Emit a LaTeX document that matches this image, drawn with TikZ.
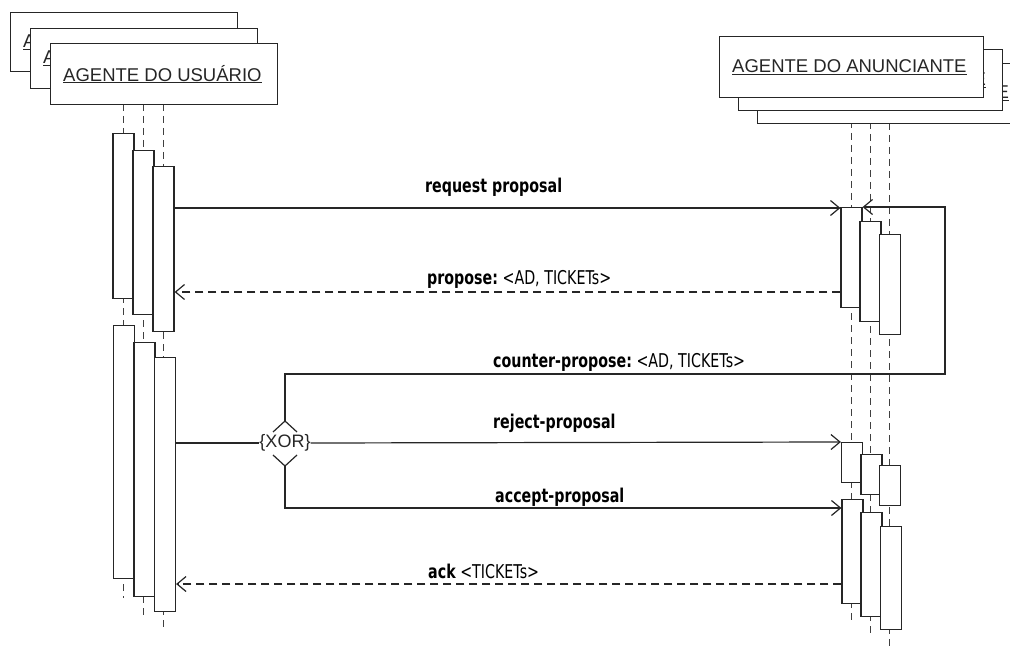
\documentclass[tikz,border=0pt]{standalone}
\usepackage{fontspec}
\setmainfont{Liberation Sans}
\newfontfamily\labfont[FakeStretch=0.75]{DejaVu Sans}
\usetikzlibrary{arrows.meta}
\begin{document}
\begin{tikzpicture}[x=1pt,y=-1pt,
  ln/.style={draw=black!85, line width=1.2pt},
  agent/.style={ln, fill=white, rectangle, inner sep=0pt, anchor=north west},
  agtxt/.style={anchor=west, inner sep=0pt, font=\fontsize{18.5}{20}\selectfont, text=black!85},
  life/.style={draw=black!75, line width=1.1pt, dash pattern=on 7pt off 5pt},
  act/.style={ln, fill=white, rectangle, inner sep=0pt, minimum width=21pt, anchor=north},
  msg/.style={ln, -{Straight Barb[length=9pt,width=15pt,line width=1.2pt]}},
  dmsg/.style={msg, dash pattern=on 8pt off 5pt},
  lab/.style={anchor=base west, inner sep=0pt, font=\labfont\fontsize{19}{20}\selectfont, text=black}
]
\useasboundingbox (0,0) rectangle (1010,650);
\clip (0,0) rectangle (1010,650);

% ---------- lifelines ----------
\coordinate (LE1) at (123.5,598);
\coordinate (LE2) at (143.5,615);
\coordinate (LE3) at (163.5,630);
\coordinate (RE1) at (851.5,620);
\coordinate (RE2) at (870.5,636);
\coordinate (RE3) at (889.5,650);
\draw[life] (123.5,104) -- (LE1);
\draw[life] (143.5,104) -- (LE2);
\draw[life] (163.5,104) -- (LE3);
\draw[life] (851.5,97) -- (RE1);
\draw[life] (870.5,110) -- (RE2);
\draw[life] (889.5,123) -- (RE3);

% ---------- agent boxes (left) ----------
\node[agent, minimum width=227pt, minimum height=59pt] (U1) at (10,12) {};
\node[agtxt] at ([xshift=13pt]U1.west) {\underline{A}};
\node[agent, minimum width=227pt, minimum height=60pt] (U2) at (30,28) {};
\node[agtxt] at ([xshift=13pt]U2.west) {\underline{A}};
\node[agent, minimum width=227pt, minimum height=61pt] (U3) at (50,43) {};
\node[agtxt] (UT) at ([xshift=13pt]U3.west) {\underline{AGENTE DO USUÁRIO}};

% ---------- agent boxes (right) ----------
\node[agent, minimum width=264pt, minimum height=60pt] (N3) at (757,63) {};
\node[agtxt, anchor=east] at ([xshift=-13pt]N3.east) {\underline{E}};
\node[agent, minimum width=264pt, minimum height=61pt] (N2) at (738,49) {};
\node[agtxt, anchor=east] at ([xshift=-17pt]N2.east) {\underline{E}};
\node[agent, minimum width=264pt, minimum height=61pt] (N1) at (719,36) {};
\node[agtxt] (NT) at ([xshift=13pt]N1.west) {\underline{AGENTE DO ANUNCIANTE}};

% ---------- activations (left) ----------
\node[act, minimum height=165pt] (A1) at (123.5,133) {};
\node[act, minimum height=164pt] (A2) at (143.5,150) {};
\node[act, minimum height=165pt] (A3) at (163.5,166) {};
\node[act, minimum height=253pt] (B1) at (124,325) {};
\node[act, minimum height=254pt] (B2) at (144.5,342) {};
\node[act, minimum height=254pt] (B3) at (165,357) {};

% ---------- activations (right) ----------
\node[act, minimum height=100pt] (R1) at (851.5,207) {};
\node[act, minimum height=100pt] (R2) at (870.5,221) {};
\node[act, minimum height=100pt] (R3) at (890,234) {};
\node[act, minimum height=40pt] (S1) at (852,442) {};
\node[act, minimum height=40pt] (S2) at (871.5,454) {};
\node[act, minimum height=40pt] (S3) at (890,465) {};
\node[act, minimum height=104pt] (T1) at (852.5,499) {};
\node[act, minimum height=104pt] (T2) at (871.5,512) {};
\node[act, minimum height=103pt] (T3) at (891,526) {};

% ---------- helper rows ----------
\coordinate (yreq) at (0,208);
\coordinate (yprop) at (0,292);
\coordinate (yxor) at (0,443);
\coordinate (yacc) at (0,508);
\coordinate (yack) at (0,584);
\coordinate (cp1) at (285,374);
\coordinate (cp2) at (945,374);
\coordinate (cp3) at (945,207);
\coordinate (acc1) at (285,508);

% ---------- XOR ----------
\node[inner sep=0pt, font=\fontsize{18}{20}\selectfont, text=black!85] (X) at (285,443) {\{XOR\}};
\coordinate (xtop) at (285,421);
\coordinate (xbot) at (285,466);
\draw[ln] (273,432) -- (xtop) -- (297,432);
\draw[ln] (273,455) -- (xbot) -- (297,455);

% ---------- messages ----------
\draw[msg] (A3.east |- yreq) -- (R1.west |- yreq);
\draw[dmsg] (R1.west |- yprop) -- (A3.east |- yprop);
\draw[msg] (xtop) -- (cp1) -- (cp2) -- (cp3) -- (R1.north east);
\draw[ln] (B3.east |- yxor) -- (X.west);
\draw[msg] (X.east) -- (S1.north west);
\draw[msg] (xbot) -- (acc1) -- (T1.west |- yacc);
\draw[dmsg] (T1.west |- yack) -- (B3.east |- yack);

% ---------- labels ----------
\node[lab] at (425,193) {\bfseries request proposal};
\node[lab] at (427,284) {\bfseries propose:\mdseries\ <AD, TICKETs>};
\node[lab] at (493,367) {\bfseries counter-propose:\mdseries\ <AD, TICKETs>};
\node[lab] at (493,428) {\bfseries reject-proposal};
\node[lab] at (495,502) {\bfseries accept-proposal};
\node[lab] at (428,578) {\bfseries ack\mdseries\ <TICKETs>};
\end{tikzpicture}
\end{document}
